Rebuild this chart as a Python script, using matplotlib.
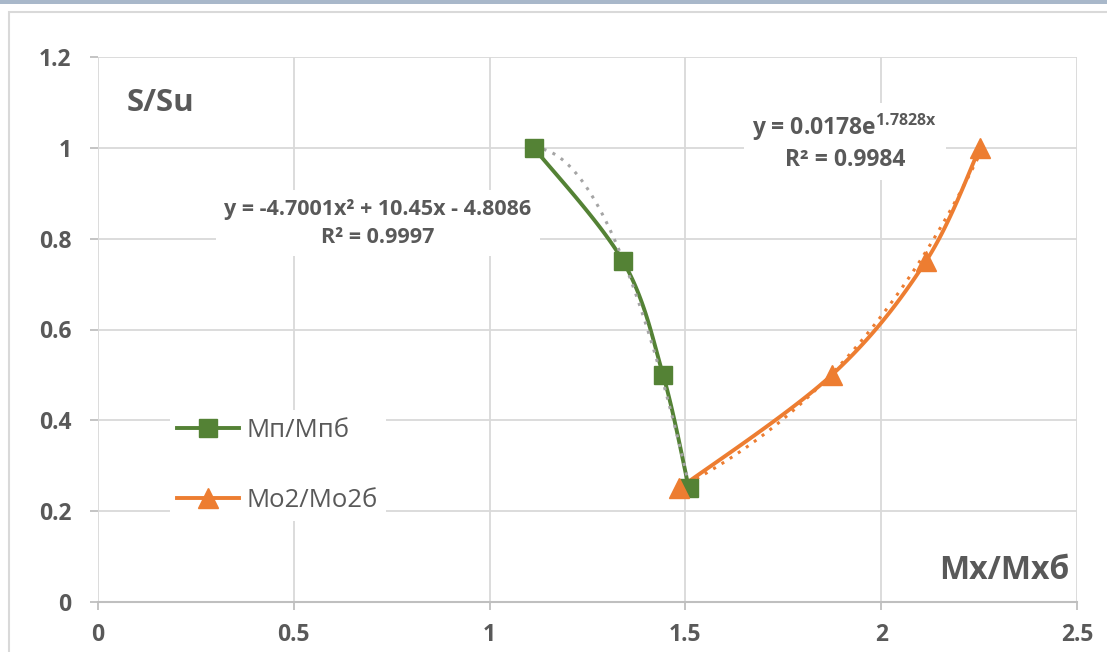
import numpy as np
import matplotlib
matplotlib.use("Agg")
from matplotlib import pyplot as plt
from matplotlib.patches import Rectangle

plt.rcParams['font.family'] = ['Open Sans', 'DejaVu Sans']
plt.rcParams['mathtext.fontset'] = 'custom'
plt.rcParams['mathtext.rm'] = 'Open Sans'
plt.rcParams['mathtext.bf'] = 'Open Sans:bold'

# данные
mp_x = [1.113, 1.341, 1.443, 1.509]
mp_y = [1.0, 0.75, 0.5, 0.25]
mo_x = [1.484, 1.874, 2.114, 2.252]
mo_y = [0.25, 0.5, 0.75, 1.0]
poly_coef = [-4.7001, 10.45, -4.8086]
exp_a, exp_b = 0.0178, 1.7828
eq_mp = "y = -4.7001x² + 10.45x - 4.8086\nR² = 0.9997"
eq_mo1 = "y = 0.0178e$^{\\mathbf{1.7828x}}$"
eq_mo2 = "R² = 0.9984"
x_ticks = [0, 0.5, 1, 1.5, 2, 2.5]
y_ticks = [0, 0.2, 0.4, 0.6, 0.8, 1, 1.2]

green = "#548235"
orange = "#ED7D31"
txt = "#595959"


def smooth(x, y, n=40):
    # сглаживание как в Excel (Безье через соседние точки)
    pts = np.column_stack([x, y]).astype(float)
    p = np.vstack([pts[0], pts, pts[-1]])
    t = np.linspace(0, 1, n)[:, None]
    out = []
    for i in range(1, len(p) - 2):
        p0, p1, p2, p3 = p[i - 1], p[i], p[i + 1], p[i + 2]
        c1 = p1 + (p2 - p0) / 6
        c2 = p2 - (p3 - p1) / 6
        out.append((1 - t) ** 3 * p1 + 3 * (1 - t) ** 2 * t * c1
                   + 3 * (1 - t) * t ** 2 * c2 + t ** 3 * p2)
    return np.vstack(out)


fig = plt.figure(figsize=(11.07, 6.52), dpi=100)
ax = fig.add_axes([98 / 1107, 50 / 652, 979 / 1107, 545 / 652])

# рамка и полоса сверху
fig.patches.append(Rectangle((9 / 1107, -0.1), 1.2, 1 - 12 / 652 + 0.1, transform=fig.transFigure,
                             fill=False, edgecolor="#d9d9d9", linewidth=1.5))
fig.patches.append(Rectangle((0, 1 - 4 / 652), 1, 4 / 652, transform=fig.transFigure,
                             facecolor="#a9b8ca", edgecolor="none"))

# тренды
tx1 = np.linspace(min(mp_x), max(mp_x), 100)
ax.plot(tx1, np.polyval(poly_coef, tx1), ls=(0, (1, 2.2)), color="#a5a5a5", lw=2.2, zorder=4)
tx2 = np.linspace(min(mo_x), max(mo_x), 100)
ax.plot(tx2, exp_a * np.exp(exp_b * tx2), ls=(0, (1, 2.2)), color=orange, lw=2.2, zorder=4)

s1 = smooth(mp_x, mp_y)
s2 = smooth(mo_x, mo_y)
ax.plot(s1[:, 0], s1[:, 1], color=green, lw=2.8, zorder=3)
ax.plot(s2[:, 0], s2[:, 1], color=orange, lw=2.8, zorder=3)
ax.plot(mp_x, mp_y, ls="none", marker="s", ms=13, color=green, zorder=5)
ax.plot(mo_x, mo_y, ls="none", marker="^", ms=15, color=orange, zorder=5)

# легенда
h1, = ax.plot([], [], color=green, lw=2.8, marker="s", ms=13)
h2, = ax.plot([], [], color=orange, lw=2.8, marker="^", ms=15)
leg = ax.legend([h1, h2], ["Мп/Мпб", "Мо2/Мо2б"], loc="upper left",
                bbox_to_anchor=(0.06, 0.375), frameon=True, fancybox=False,
                edgecolor="none", framealpha=1, fontsize=18.5, labelspacing=1.75,
                handlelength=2.4, handletextpad=0.3, borderpad=0.3)
for t in leg.get_texts():
    t.set_color(txt)

ax.set_xlim(0, 2.5)
ax.set_ylim(0, 1.2)
ax.set_xticks(x_ticks)
ax.set_yticks(y_ticks)
ax.set_xticklabels([f"{v:g}" for v in x_ticks])
ax.set_yticklabels([f"{v:g}" for v in y_ticks])
ax.grid(True, color="#d9d9d9", lw=1.3)
ax.set_axisbelow(True)
for s in ["top", "right", "left"]:
    ax.spines[s].set_visible(False)
ax.spines["bottom"].set_color("#bfbfbf")
ax.spines["bottom"].set_linewidth(1.5)
ax.tick_params(axis="both", colors="#bfbfbf", labelcolor=txt, labelsize=16.5, length=6, width=1.3)
ax.tick_params(axis="y", pad=13)
ax.tick_params(axis="x", pad=9)
for lab in ax.get_xticklabels() + ax.get_yticklabels():
    lab.set_fontweight("bold")

ax.text(0.074, 1.099, "S/Su", fontsize=22.5, fontweight="bold", color=txt, va="center", ha="left")
ax.text(2.482, 0.07, "Мх/Мхб", fontsize=23, fontweight="bold", color=txt, va="center", ha="right")

box = dict(facecolor="white", edgecolor="none", pad=6)
ax.text(0.715, 0.834, eq_mp, fontsize=15.5, fontweight="bold", color=txt, ha="center", va="center",
        linespacing=1.45, bbox=box, zorder=2)
ax.text(1.907, 1.046, eq_mo1, fontsize=16.5, fontweight="bold", color=txt, ha="center", va="center",
        bbox=box, zorder=2)
ax.text(1.907, 0.973, eq_mo2, fontsize=16.5, fontweight="bold", color=txt, ha="center", va="center",
        bbox=box, zorder=2)

fig.savefig("out.png", dpi=100)
